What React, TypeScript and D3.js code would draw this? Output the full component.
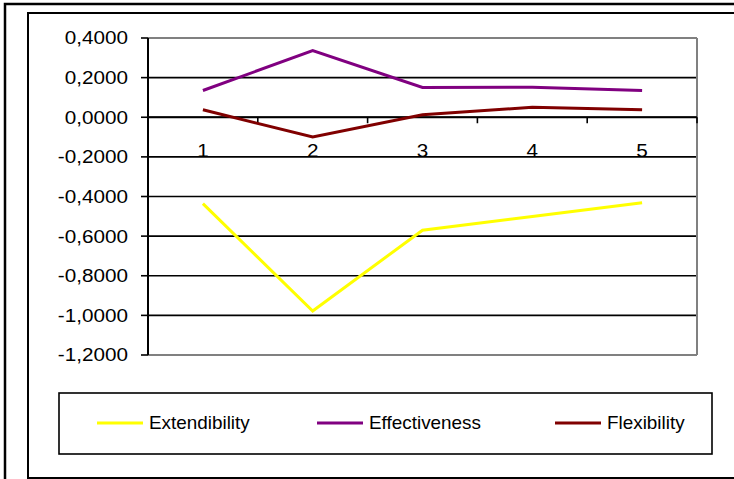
import React from "react";
import * as d3 from "d3";

const categories = ["1", "2", "3", "4", "5"];
const extendibility = [-0.436, -0.978, -0.57, -0.501, -0.432];
const effectiveness = [0.135, 0.336, 0.15, 0.152, 0.135];
const flexibility = [0.038, -0.1, 0.013, 0.05, 0.038];
const yTicks = [0.4, 0.2, 0, -0.2, -0.4, -0.6, -0.8, -1.0, -1.2];

const seriesList = [
  { name: "Extendibility", values: extendibility, color: "#FFFF00" },
  { name: "Effectiveness", values: effectiveness, color: "#800080" },
  { name: "Flexibility", values: flexibility, color: "#800000" },
];

const W = 734;
const H = 479;
const plot = { left: 148, right: 697, top: 38, bottom: 355 };
const font = "'Liberation Sans', Arial, sans-serif";

const fmt = (v: number) => {
  const s = Math.abs(v).toFixed(4).replace(".", ",");
  return (v < -1e-9 ? "-" : "") + s;
};

export default function App() {
  const x = d3
    .scaleBand<string>()
    .domain(categories)
    .range([plot.left, plot.right])
    .paddingInner(0)
    .paddingOuter(0);
  const y = d3.scaleLinear().domain([-1.2, 0.4]).range([plot.bottom, plot.top]);
  const cx = (i: number) => (x(categories[i]) as number) + x.bandwidth() / 2;
  const line = d3
    .line<number>()
    .x((_, i) => cx(i))
    .y((d) => y(d));

  const y0 = y(0);
  const boundaries = d3.range(categories.length + 1).map((i) => plot.left + i * x.bandwidth());

  const legendItems = [
    { lx: 97, tx: 149 },
    { lx: 317, tx: 369 },
    { lx: 555, tx: 607 },
  ];

  return (
    <svg
      width={W}
      height={H}
      style={{ position: "absolute", left: 0, top: 0, background: "#fff" }}
      fontFamily={font}
    >
      {/* outer frame */}
      <rect x={5} y={4} width={W + 10} height={H + 10} fill="none" stroke="#000" strokeWidth={2.5} />
      {/* chart area frame */}
      <rect x={28} y={13} width={W} height={465} fill="none" stroke="#000" strokeWidth={2} />

      {/* gridlines */}
      {yTicks.map((t) => (
        <line
          key={"g" + t}
          x1={plot.left}
          x2={plot.right}
          y1={y(t)}
          y2={y(t)}
          stroke={t === 0.4 || t === -1.2 ? "#808080" : "#000"}
          strokeWidth={t === 0.4 || t === -1.2 ? 2 : 1.6}
        />
      ))}
      {/* plot area right border */}
      <line x1={plot.right} x2={plot.right} y1={plot.top} y2={plot.bottom} stroke="#808080" strokeWidth={2} />

      {/* y axis */}
      <line x1={plot.left} x2={plot.left} y1={plot.top} y2={plot.bottom} stroke="#000" strokeWidth={2} />
      {yTicks.map((t) => (
        <g key={"t" + t}>
          <line x1={plot.left - 7} x2={plot.left} y1={y(t)} y2={y(t)} stroke="#000" strokeWidth={1.6} />
          <text
            transform={`translate(128,${y(t)}) scale(1.15,1)`}
            dy="0.36em"
            textAnchor="end"
            fontSize={18}
            fill="#000"
          >
            {fmt(t)}
          </text>
        </g>
      ))}

      {/* x axis at zero */}
      <line x1={plot.left} x2={plot.right} y1={y0} y2={y0} stroke="#000" strokeWidth={2} />
      {boundaries.map((b, i) => (
        <line key={"b" + i} x1={b} x2={b} y1={y0} y2={y0 + 6} stroke="#000" strokeWidth={1.6} />
      ))}
      {categories.map((c, i) => (
        <text
          key={"c" + c}
          transform={`translate(${cx(i)},${y0 + 40}) scale(1.15,1)`}
          textAnchor="middle"
          fontSize={18}
          fill="#000"
        >
          {c}
        </text>
      ))}

      {/* series */}
      {seriesList.map((s) => (
        <path
          key={s.name}
          d={line(s.values) || ""}
          fill="none"
          stroke={s.color}
          strokeWidth={3}
          strokeLinejoin="miter"
        />
      ))}

      {/* legend */}
      <rect x={59} y={393} width={653} height={61} fill="#fff" stroke="#000" strokeWidth={1.6} />
      {seriesList.map((s, i) => (
        <g key={"l" + s.name}>
          <line
            x1={legendItems[i].lx}
            x2={legendItems[i].lx + 46}
            y1={423}
            y2={423}
            stroke={s.color}
            strokeWidth={3}
          />
          <text
            transform={`translate(${legendItems[i].tx},423) scale(1.05,1)`}
            dy="0.36em"
            fontSize={18}
            fill="#000"
          >
            {s.name}
          </text>
        </g>
      ))}
    </svg>
  );
}
